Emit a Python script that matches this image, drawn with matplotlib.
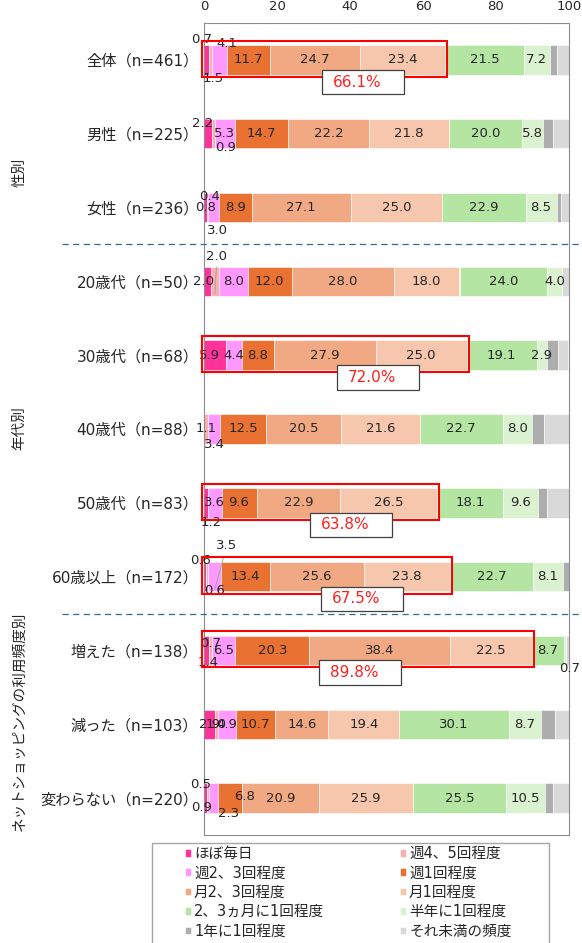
import matplotlib
matplotlib.use("Agg")
import matplotlib.pyplot as plt
import matplotlib.transforms as mtransforms
from matplotlib.patches import Rectangle
from matplotlib.lines import Line2D

plt.rcParams['font.family'] = ['DejaVu Sans', 'Noto Sans CJK JP']

W_PX, H_PX, DPI = 582, 943, 100

groups = ['全体（n=461）', '男性（n=225）', '女性（n=236）',
          '20歳代（n=50）', '30歳代（n=68）', '40歳代（n=88）',
          '50歳代（n=83）', '60歳以上（n=172）',
          '増えた（n=138）', '減った（n=103）', '変わらない（n=220）']

categories = ['ほぼ毎日', '週4、5回程度', '週2、3回程度', '週1回程度',
              '月2、3回程度', '月1回程度', '2、3ヵ月に1回程度',
              '半年に1回程度', '1年に1回程度', 'それ未満の頻度']

daily = [1.5, 2.2, 0.8, 2.0, 5.9, 0.0, 1.2, 0.6, 1.4, 2.9, 0.9]
week45 = [0.7, 0.9, 0.4, 2.0, 0.0, 1.1, 0.0, 0.6, 0.7, 1.0, 0.5]
week23 = [4.1, 5.3, 3.0, 8.0, 4.4, 3.4, 3.6, 3.5, 6.5, 4.9, 2.3]
week1 = [11.7, 14.7, 8.9, 12.0, 8.8, 12.5, 9.6, 13.4, 20.3, 10.7, 6.8]
month23 = [24.7, 22.2, 27.1, 28.0, 27.9, 20.5, 22.9, 25.6, 38.4, 14.6, 20.9]
month1 = [23.4, 21.8, 25.0, 18.0, 25.0, 21.6, 26.5, 23.8, 22.5, 19.4, 25.9]
months23 = [21.5, 20.0, 22.9, 24.0, 19.1, 22.7, 18.1, 22.7, 8.7, 30.1, 25.5]
halfyear = [7.2, 5.8, 8.5, 4.0, 2.9, 8.0, 9.6, 8.1, 0.7, 8.7, 10.5]
yearly = [2.0, 2.7, 1.3, 0.0, 2.9, 3.4, 2.4, 1.7, 0.0, 3.9, 2.3]
rarer = [3.3, 4.4, 2.1, 2.0, 2.9, 6.8, 6.0, 0.0, 0.7, 3.9, 4.5]

series = [daily, week45, week23, week1, month23, month1,
          months23, halfyear, yearly, rarer]

colors = ['#FF3399', '#F9B0B0', '#FF99FF', '#E97132', '#F1A983',
          '#F6C6AD', '#B4E5A2', '#DAF2D0', '#ADADAD', '#D9D9D9']

# rows whose "at least monthly" share gets a red frame and a callout
highlight_rows = [0, 4, 6, 7, 8]
callout_left = {0: 32.3, 4: 36.4, 6: 29.0, 7: 32.0, 8: 31.5}

# nudges for crowded small labels: (row, series) -> (dx, dy) pixels, dy down
label_shift = {
    (0, 0): (6, 19), (0, 1): (-9, -20), (0, 2): (7, -16),
    (1, 0): (-5, -10), (1, 1): (12, 14),
    (2, 1): (2, -11), (2, 2): (4, 23),
    (3, 0): (-4, 0), (3, 1): (2, -25),
    (4, 0): (-5, 0),
    (5, 2): (0, 15),
    (6, 0): (5, 20),
    (7, 0): (-5, -16), (7, 1): (7, 14), (7, 2): (12, -31),
    (8, 0): (2, 12), (8, 1): (0, -7), (8, 7): (5, 18),
    (10, 0): (-4, 9), (10, 1): (-8, -14), (10, 2): (15, 15), (10, 3): (15, -2),
}
leaders = [(3, 1), (7, 2)]

fig = plt.figure(figsize=(W_PX / DPI, H_PX / DPI), dpi=DPI)
ax = fig.add_axes([204 / W_PX, 1 - 835 / H_PX, 365 / W_PX, 812 / H_PX])

rows = list(range(len(groups)))
bar_h = 0.4
left = [0.0] * len(groups)
for k, vals in enumerate(series):
    ax.barh(rows, vals, left=left, height=bar_h, color=colors[k],
            edgecolor='white', linewidth=0.4, label=categories[k], zorder=2)
    if k < 8:
        for r, v in enumerate(vals):
            if v <= 0:
                continue
            cx = left[r] + v / 2
            dx, dy = label_shift.get((r, k), (0, 0))
            tr = mtransforms.offset_copy(ax.transData, fig=fig, x=dx, y=-dy, units='dots')
            if (r, k) in leaders:
                ax.annotate(f'{v:.1f}', xy=(cx, r + 0.17), xytext=(cx, r), textcoords=tr,
                            ha='center', va='center', fontsize=9.5, color='#262626',
                            arrowprops=dict(arrowstyle='-', color='#A0A0A0', lw=0.6,
                                            shrinkA=1, shrinkB=0), zorder=4)
            else:
                ax.text(cx, r, f'{v:.1f}', transform=tr, ha='center', va='center',
                        fontsize=9.5, color='#262626', zorder=4)
    left = [a + b for a, b in zip(left, vals)]

for r in highlight_rows:
    share = sum(s[r] for s in series[:6])
    ax.add_patch(Rectangle((-0.6, r - bar_h / 2 - 0.06), share + 1.1, bar_h + 0.09,
                           fill=False, edgecolor='#FF0000', linewidth=1.5,
                           clip_on=False, zorder=5))
    x0 = callout_left[r]
    ax.add_patch(Rectangle((x0, r + 0.135), 22.4, 0.33, facecolor='white',
                           edgecolor='#404040', linewidth=0.9, clip_on=False, zorder=6))
    ax.text(x0 + 2.9, r + 0.135 + 0.165, f'{share:.1f}%', ha='left', va='center',
            fontsize=11, color='#FF2020', zorder=7)

ax.set_xlim(0, 100)
ax.set_ylim(len(groups) - 0.5, -0.5)
ax.set_yticks(rows, labels=groups)
ax.set_xticks(range(0, 101, 20))
ax.xaxis.tick_top()
ax.tick_params(axis='x', length=0, pad=7, labelsize=9.5, labelcolor='#262626')
ax.tick_params(axis='y', length=0, pad=4, labelsize=11, labelcolor='#262626')
for sp in ax.spines.values():
    sp.set_color('#8C8C8C')
    sp.set_linewidth(0.8)

# dashed separators between the three breakdowns
blend = mtransforms.blended_transform_factory(fig.transFigure, ax.transData)
for yb in (2.5, 7.5):
    ax.add_line(Line2D([62 / W_PX, 1.0], [yb, yb], transform=blend, clip_on=False,
                       color='#2F6E93', linewidth=0.9, dashes=(5, 3.5), zorder=3))

for txt, ypx in (('性別', 172), ('年代別', 428), ('ネットショッピングの利用頻度別', 721)):
    fig.text(19 / W_PX, 1 - ypx / H_PX, txt, rotation=90, ha='center', va='center',
             fontsize=10.5, color='#262626')

# legend box, filled row by row
fig.add_artist(Rectangle((152 / W_PX, -0.01), 397 / W_PX, 1 - 843 / H_PX + 0.01,
                         transform=fig.transFigure, fill=False,
                         edgecolor='#A6A6A6', linewidth=1))
handles, labels = ax.get_legend_handles_labels()
order = [0, 2, 4, 6, 8, 1, 3, 5, 7, 9]
fig.legend([handles[i] for i in order], [labels[i] for i in order],
           loc='upper left', bbox_to_anchor=(185 / W_PX, 1 - 846 / H_PX),
           ncol=2, frameon=False, fontsize=10.5, borderpad=0, borderaxespad=0,
           handlelength=0.42, handleheight=0.42, handletextpad=0.2,
           labelspacing=0.3, columnspacing=5.2, labelcolor='#262626')

fig.savefig('out.png', dpi=DPI)
